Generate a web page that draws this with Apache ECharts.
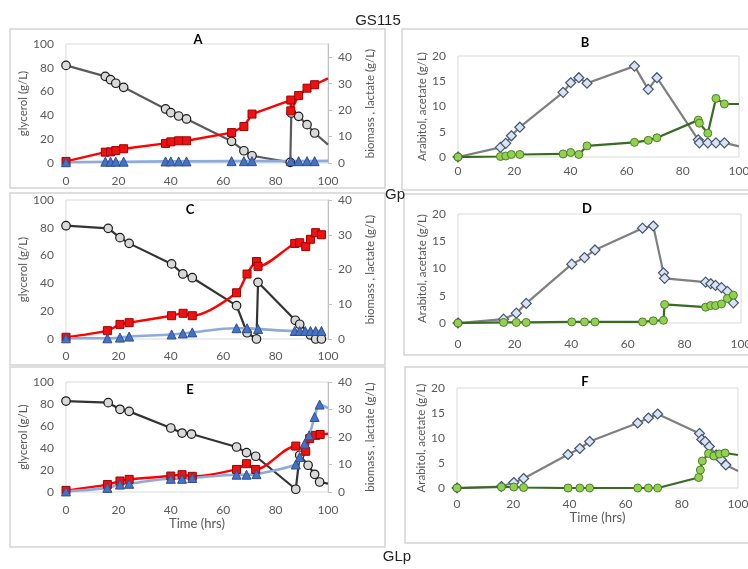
<!DOCTYPE html>
<html>
<head>
<meta charset="utf-8">
<title>GS115 fed-batch</title>
<script src="https://cdn.jsdelivr.net/npm/echarts@6/dist/echarts.min.js"></script>
</head>
<body style="margin:0;background:#fff">
<div id="main" style="width:748px;height:569px"></div>
<script>
// ---- panel A (glycerol left axis, lactate / biomass right axis)
var tGlyA = [0, 15, 17, 19, 22, 38, 40, 43, 46, 63.2, 67.9, 71, 85.6, 86, 88.8, 92, 94.9, 100];
var glyA  = [82, 72.8, 70, 67, 63.6, 45.4, 42.3, 39.5, 37, 18.2, 10.3, 6.1, 0.5, 42, 39.2, 32.2, 25.2, 15.4];
var tLacA = [0, 15, 17, 19, 22, 38, 40, 43, 46, 63.2, 67.9, 71, 85.8, 85.8, 88.8, 92, 94.9, 100];
var lacA  = [0.6, 4.1, 4.2, 4.7, 5.4, 7.4, 8.0, 8.4, 8.4, 11.5, 13.8, 18.5, 23.8, 19.7, 25.5, 28.3, 29.6, 32];
var tBioA = [0, 15, 17, 19, 22, 38, 40, 43, 46, 63.2, 67.9, 71, 85.8, 88.8, 92, 94.9, 100];
var bioA  = [0.3, 0.5, 0.5, 0.5, 0.5, 0.6, 0.6, 0.6, 0.6, 0.7, 0.7, 0.7, 0.7, 0.7, 0.7, 0.7, 0.8];

// ---- panel B (arabitol, acetate)
var tB     = [0, 15.1, 17, 19, 22, 37.4, 40.1, 43, 45.9, 62.8, 67.7, 70.8, 85.5, 85.9, 88.9, 91.8, 94.8, 100];
var arabB  = [0, 1.9, 2.7, 4.2, 5.9, 12.8, 14.7, 15.7, 14.6, 18, 13.4, 15.7, 3.4, 2.8, 2.8, 2.8, 2.8, 2.1];
var acetB  = [0, 0.1, 0.2, 0.5, 0.5, 0.6, 0.9, 0.5, 2.2, 2.9, 3.3, 3.8, 7.3, 6.7, 4.7, 11.6, 10.5, 10.5];

// ---- panel C
var tGlyC = [0, 16.1, 20.6, 24.1, 40.3, 44.6, 48.2, 65.1, 69.1, 72.7, 73.3, 87.5, 89.2, 93.3, 95.3, 97.5];
var glyC  = [81.5, 79.6, 72.9, 68.8, 54, 46.8, 44.1, 24, 4.5, 0, 40.8, 13.5, 10.6, 2.9, 0, 0];
var tLacC = [0, 15.8, 20.6, 24.1, 40.3, 44.7, 48.2, 65.1, 69.1, 72.7, 73.3, 87.3, 89.2, 91.5, 93.3, 95.3, 97.5];
var lacC  = [0.5, 2.4, 4.2, 4.7, 6.7, 7.4, 6.7, 13.3, 18.7, 22.3, 20.9, 27.5, 27.7, 26.6, 28.7, 30.6, 30];
var tBioC = [0, 15.8, 20.6, 24.1, 40.3, 44.6, 48.2, 65.1, 69.1, 73.3, 87.3, 89.2, 91.3, 93.3, 95.3, 97.5];
var bioC  = [0.2, 0.2, 0.4, 0.7, 1.3, 1.6, 1.9, 3.1, 3.1, 2.9, 2.3, 2.3, 2.3, 2.3, 2.3, 2.3];

// ---- panel D
var tD    = [0, 16.1, 20.6, 24.1, 40.2, 44.7, 48.4, 65.2, 69, 72.6, 73, 87.5, 89.3, 91, 93.1, 95.2, 97.3];
var arabD = [0, 0.7, 1.8, 3.6, 10.8, 12, 13.4, 17.4, 17.8, 9.2, 8.2, 7.5, 7.2, 6.9, 6.5, 5.8, 3.7];
var acetD = [0, 0.1, 0.1, 0.1, 0.2, 0.2, 0.2, 0.2, 0.4, 0.5, 3.4, 2.9, 3.2, 3.2, 3.5, 4.5, 5.1];

// ---- panel E
var tGlyE = [0, 16.1, 20.6, 24.1, 40, 44.3, 47.9, 65.1, 68.9, 72.4, 87.7, 89.2, 92.4, 94.9, 96.8, 100];
var glyE  = [82.7, 81.2, 75.2, 73.3, 58.2, 53.6, 52.7, 40.9, 35.8, 32.5, 2.5, 33.4, 24.3, 16.1, 9.1, 7.6];
var tLacE = [0, 15.8, 20.6, 24.1, 40, 44.3, 48.2, 65.1, 68.9, 72.4, 87.7, 91.5, 93, 95.3, 97, 100];
var lacE  = [0.6, 2.7, 4, 4.6, 5.8, 6.3, 5.7, 8.2, 10.3, 8.2, 16.7, 14.8, 19.4, 20.6, 20.9, 21.2];
var tBioE = [0, 15.8, 20.6, 24.1, 40, 44.3, 48.2, 65.1, 68.9, 72.7, 87.7, 89.2, 91.1, 92.8, 94.9, 96.8, 100];
var bioE  = [0.2, 1.5, 2.7, 3, 4.8, 4.8, 5.1, 6.3, 6.3, 6.5, 10, 12.7, 17.6, 20.6, 27.3, 31.8, 30.5];

// ---- panel F
var tArF  = [0, 15.8, 20.2, 23.7, 39.5, 43.7, 47.2, 64.3, 68.1, 71.4, 86.3, 87.1, 88.3, 89.8, 92.2, 94, 95.7, 100];
var arabF = [0, 0.3, 1.1, 1.9, 6.7, 7.9, 9.3, 13, 14, 14.8, 10.9, 9.7, 9.3, 8.3, 6.6, 5.7, 4.6, 3.4];
var tAcF  = [0, 15.8, 20.2, 23.7, 39.5, 43.7, 47.2, 64.3, 68.1, 71.4, 86, 86.6, 87.3, 89.5, 91.4, 93.4, 95.4, 100];
var acetF = [0, 0.2, 0.2, 0.1, 0, 0, 0, 0, 0, 0, 2.1, 3.6, 5.4, 6.9, 6.4, 6.8, 7.0, 6.6];

var FONT = 'Lato, "Open Sans", sans-serif';
var LABEL = { color: '#595959', fontSize: 12, fontFamily: FONT };

// pair up times and values; lines that run on past the last marker get no symbol there
function pts(t, v, openEnd) {
  return t.map(function (x, i) {
    if (openEnd && i === t.length - 1) return { value: [x, v[i]], symbol: 'none' };
    return [x, v[i]];
  });
}

var grids = [
  { left: 66,  top: 44,  width: 262, height: 119 },  // A
  { left: 458, top: 56,  width: 281, height: 101 },  // B
  { left: 66,  top: 200, width: 262, height: 139 },  // C
  { left: 458, top: 214, width: 283, height: 109 },  // D
  { left: 66,  top: 382, width: 262, height: 110 },  // E
  { left: 457, top: 388, width: 281, height: 100 }   // F
].map(function (g) {
  g.show = true; g.borderColor = '#d9d9d9'; g.borderWidth = 1;
  g.containLabel = false; g.outerBoundsMode = 'none';
  return g;
});

function xAx(i, margin, named, gap) {
  return {
    type: 'value', gridIndex: i, min: 0, max: 100, interval: 20,
    axisLine: { show: false }, axisTick: { show: false }, splitLine: { show: false },
    axisLabel: Object.assign({ margin: margin }, LABEL),
    name: named ? 'Time (hrs)' : '', nameLocation: 'middle', nameGap: gap || 20,
    nameTextStyle: { color: '#595959', fontSize: 13, fontFamily: FONT }
  };
}
function yLeft(i, max, step, name, gap) {
  return {
    type: 'value', gridIndex: i, min: 0, max: max, interval: step,
    axisLine: { show: false }, axisTick: { show: false }, splitLine: { show: false },
    axisLabel: Object.assign({ margin: 12 }, LABEL),
    name: name, nameLocation: 'middle', nameRotate: 90, nameGap: gap,
    nameTextStyle: { color: '#595959', fontSize: 11.5, fontFamily: FONT }
  };
}
function yRight(i, max) {
  return {
    type: 'value', gridIndex: i, position: 'right', min: 0, max: max, interval: 10,
    axisLine: { show: true, lineStyle: { color: '#bfbfbf' } },
    axisTick: { show: true, length: 4, lineStyle: { color: '#bfbfbf' } },
    splitLine: { show: false },
    axisLabel: Object.assign({ margin: 10, showMaxLabel: max % 10 === 0 }, LABEL),
    name: 'biomass , lactate (g/L)', nameLocation: 'middle', nameRotate: 90, nameGap: 36,
    nameTextStyle: { color: '#595959', fontSize: 11.5, fontFamily: FONT }
  };
}

var xAxes = [xAx(0, 12), xAx(1, 8), xAx(2, 11), xAx(3, 15), xAx(4, 12, true, 22), xAx(5, 10, true, 18)];
var yAxes = [
  yLeft(0, 100, 20, 'glycerol (g/L)', 37), yRight(0, 45),
  yLeft(1, 20, 5, 'Arabitol, acetate (g/L)', 30),
  yLeft(2, 100, 20, 'glycerol (g/L)', 37), yRight(2, 40),
  yLeft(3, 20, 5, 'Arabitol, acetate (g/L)', 30),
  yLeft(4, 100, 20, 'glycerol (g/L)', 37), yRight(4, 40),
  yLeft(5, 20, 5, 'Arabitol, acetate (g/L)', 30)
];

function glycerol(xi, yi, data, color) {
  return { type: 'line', xAxisIndex: xi, yAxisIndex: yi, data: data,
    symbol: 'circle', symbolSize: 8.5,
    lineStyle: { color: color, width: 2.2 },
    itemStyle: { color: '#d9d9d9', borderColor: '#1a1a1a', borderWidth: 1.2 } };
}
function lactate(xi, yi, data, smooth) {
  return { type: 'line', xAxisIndex: xi, yAxisIndex: yi, data: data, smooth: smooth,
    symbol: 'rect', symbolSize: 8,
    lineStyle: { color: '#ff0000', width: 2.4 },
    itemStyle: { color: '#ee1111', borderColor: '#a00000', borderWidth: 1 } };
}
function biomass(xi, yi, data, smooth) {
  return { type: 'line', xAxisIndex: xi, yAxisIndex: yi, data: data, smooth: smooth,
    symbol: 'triangle', symbolSize: 9,
    lineStyle: { color: '#8eaadb', width: 2.6 },
    itemStyle: { color: '#4472c4', borderColor: '#2f4f8f', borderWidth: 1 } };
}
function arabitol(xi, yi, data) {
  return { type: 'line', xAxisIndex: xi, yAxisIndex: yi, data: data,
    symbol: 'diamond', symbolSize: 10,
    lineStyle: { color: '#7f7f7f', width: 2.2 },
    itemStyle: { color: '#dae3f3', borderColor: '#44546a', borderWidth: 1.2 } };
}
function acetate(xi, yi, data) {
  return { type: 'line', xAxisIndex: xi, yAxisIndex: yi, data: data,
    symbol: 'circle', symbolSize: 8,
    lineStyle: { color: '#3a6b23', width: 2.2 },
    itemStyle: { color: '#92d050', borderColor: '#4f7f2a', borderWidth: 1 } };
}

var series = [
  glycerol(0, 0, pts(tGlyA, glyA, true), '#5a5a5a'),
  lactate(0, 1, pts(tLacA, lacA, true), false),
  biomass(0, 1, pts(tBioA, bioA, true), false),
  arabitol(1, 2, pts(tB, arabB, true)),
  acetate(1, 2, pts(tB, acetB, true)),
  glycerol(2, 3, pts(tGlyC, glyC), '#333333'),
  lactate(2, 4, pts(tLacC, lacC), 0.3),
  biomass(2, 4, pts(tBioC, bioC), 0.4),
  arabitol(3, 5, pts(tD, arabD)),
  acetate(3, 5, pts(tD, acetD)),
  glycerol(4, 6, pts(tGlyE, glyE, true), '#333333'),
  lactate(4, 7, pts(tLacE, lacE, true), 0.3),
  biomass(4, 7, pts(tBioE, bioE, true), 0.3),
  arabitol(5, 8, pts(tArF, arabF, true)),
  acetate(5, 8, pts(tAcF, acetF, true))
];

function box(x, y, w, h) {
  return { type: 'rect', shape: { x: x, y: y, width: w, height: h }, z: -1,
    style: { fill: 'none', stroke: '#d4d4d4', lineWidth: 1.5 } };
}
function txt(s, x, y, size, bold) {
  return { type: 'text', x: x, y: y, z: 10,
    style: { text: s, fontSize: size, fontWeight: bold ? 'bold' : 'normal',
      fontFamily: bold ? FONT : '"Liberation Sans", Arial, sans-serif',
      fill: bold ? '#000' : '#222', textAlign: 'center', textVerticalAlign: 'middle' } };
}

var myChart = echarts.init(document.getElementById('main'));
myChart.setOption({
  animation: false,
  backgroundColor: '#fff',
  grid: grids,
  xAxis: xAxes,
  yAxis: yAxes,
  series: series,
  graphic: [
    box(10, 29, 375, 159), box(402, 29, 360, 161),
    box(10, 193, 375, 172), box(404, 194, 360, 161),
    box(10, 367, 375, 180), box(405, 367, 360, 176),
    txt('A', 198, 40, 13, true), txt('B', 585, 43, 13, true),
    txt('C', 190, 210, 13, true), txt('D', 587, 209, 13, true),
    txt('E', 190, 390, 13, true), txt('F', 585, 382, 13, true),
    txt('GS115', 378, 21, 15), txt('Gp', 395, 195, 15), txt('GLp', 397, 557, 15)
  ]
});
</script>
</body>
</html>
